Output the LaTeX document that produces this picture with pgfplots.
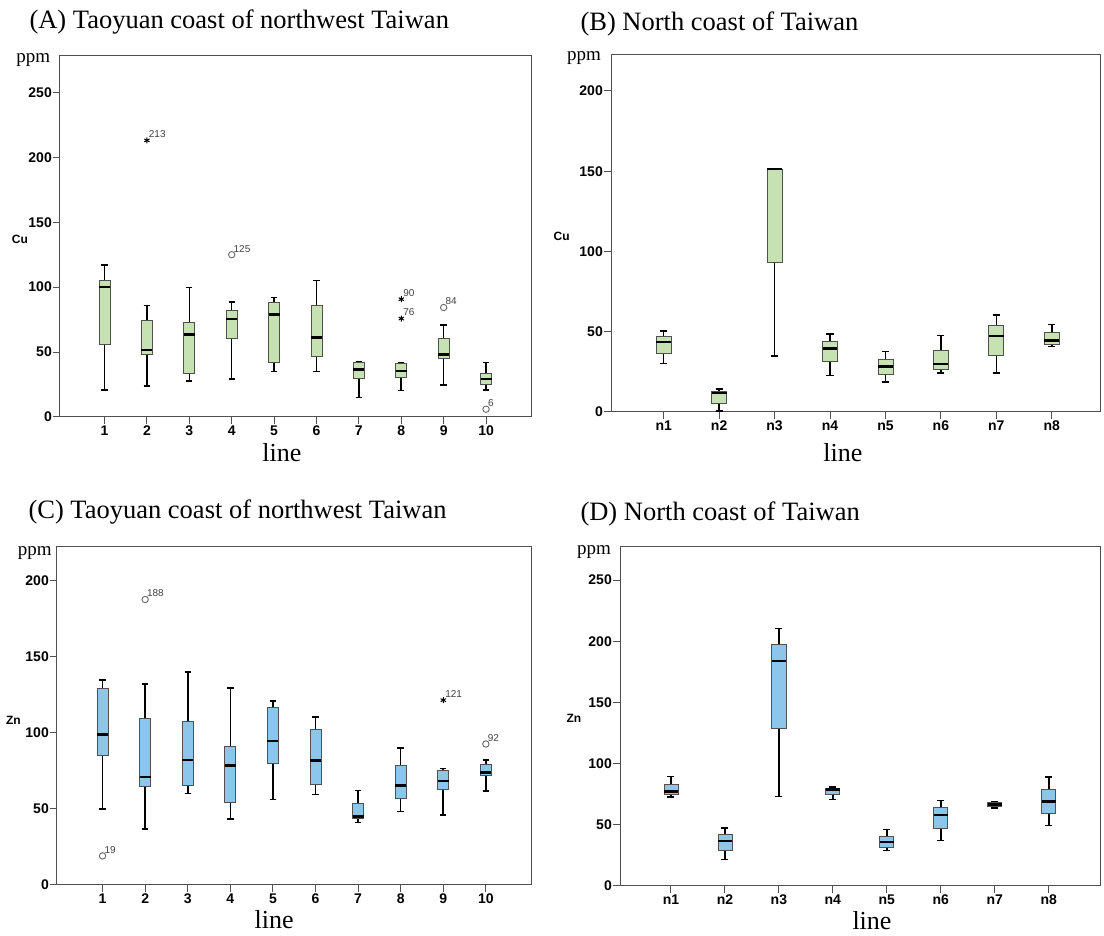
\documentclass[border=0pt]{standalone}
\usepackage{fontspec}
\setmainfont{Liberation Serif}
\newfontfamily\sansf{Liberation Sans}
\usepackage{pgfplots}
\pgfplotsset{compat=1.18}
\usepgfplotslibrary{statistics}

\definecolor{cugreen}{RGB}{198,226,178}
\definecolor{znblue}{RGB}{140,198,234}
\definecolor{frame}{RGB}{80,80,80}

\def\boxcol{cugreen}
% one prepared box: position, lower whisker, Q1, median, Q3, upper whisker
\newcommand\bx[6]{\addplot[fill=\boxcol, draw=frame,
  boxplot prepared={draw position=#1, lower whisker=#2, lower quartile=#3,
  median=#4, upper quartile=#5, upper whisker=#6}] coordinates {};}

\pgfplotsset{
  panel/.style={
    scale only axis, anchor=south west,
    axis line style={frame, line width=1pt},
    tick style={frame, line width=1pt},
    tick align=outside, major tick length=7pt,
    xtick pos=bottom, ytick pos=left,
    ymin=0,
    /pgf/number format/assume math mode=true,
    ticklabel style={font=\fontsize{14}{16}\selectfont\sansf\bfseries},
    yticklabel style={inner sep=1pt},
    xticklabel style={inner sep=2pt},
    boxplot/draw direction=y,
    boxplot/box extend=0.26,
    boxplot/whisker extend=0.15,
    boxplot/every box/.style={draw=frame, line width=0.8pt},
    boxplot/every whisker/.style={black, line width=1.6pt},
    boxplot/every median/.style={black, line width=2.6pt},
    clip=false,
  },
  circ/.style={only marks, mark=o, mark size=3.2pt, draw=black!60,
    mark options={line width=0.9pt},
    nodes near coords, point meta=explicit symbolic,
    every node near coord/.append style={anchor=south west, inner sep=0.5pt,
      xshift=1pt, yshift=1.5pt, font=\fontsize{10}{11}\selectfont\sansf, text=black!75}},
  star/.style={circ, mark=asterisk, mark size=3pt, draw=black,
    mark options={line width=1pt}},
}

\newcommand\ylab[3]{\node[font=\fontsize{12}{13}\selectfont\sansf\bfseries] at (axis description cs:#1,#2) {#3};}
\newcommand\ppm[2]{\node[font=\fontsize{19}{20}\selectfont] at (axis description cs:#1,#2) {ppm};}
\newcommand\xlab[2]{\node[anchor=base, font=\fontsize{26}{28}\selectfont] at (axis description cs:#1,#2) {line};}

\begin{document}
\begin{tikzpicture}
\useasboundingbox (0,0) rectangle (1104pt,936pt);

\node[anchor=base west, font=\fontsize{26.5}{30}\selectfont] at (26pt,907pt) {(A) Taoyuan coast of northwest Taiwan};
\node[anchor=base west, font=\fontsize{26.5}{30}\selectfont] at (577pt,905pt) {(B) North coast of Taiwan};
\node[anchor=base west, font=\fontsize{26.5}{30}\selectfont] at (25pt,417pt) {(C) Taoyuan coast of northwest Taiwan};
\node[anchor=base west, font=\fontsize{26.5}{30}\selectfont] at (577pt,415pt) {(D) North coast of Taiwan};

% (A) Cu, Taoyuan
\def\boxcol{cugreen}
\begin{axis}[panel, at={(60pt,519pt)}, width=471pt, height=361pt,
  xmin=-0.05, xmax=11.06, ymax=278,
  xtick={1,...,10}, ytick={0,50,...,250}]
\bx{1}{21}{56}{100}{105}{117}
\bx{2}{24}{48}{51.6}{74}{86}
\bx{3}{27.5}{33.7}{63.5}{73}{99.7}
\bx{4}{29.3}{60.4}{75.5}{82}{88.6}
\bx{5}{35}{42.4}{79}{88}{92}
\bx{6}{35}{47}{61}{86}{105}
\bx{7}{15}{29.8}{36.8}{42}{42.4}
\bx{8}{20.3}{30.6}{35.5}{41.6}{42}
\bx{9}{24.7}{45.2}{48.3}{60.6}{71}
\bx{10}{20.8}{25.2}{29.3}{33.7}{42}
\addplot[circ] coordinates {(4,125) [125] (9,84.3) [84] (10,6) [6]};
\addplot[star] coordinates {(2,213) [213] (8,90.7) [90] (8,75.8) [76]};
\ylab{-0.085}{0.493}{Cu}
\ppm{-0.057}{0.989}
\xlab{0.471}{-0.122}
\end{axis}

% (B) Cu, north coast
\begin{axis}[panel, at={(611pt,524pt)}, width=489pt, height=357pt,
  xmin=0.05, xmax=8.87, ymax=222.4,
  xtick={1,...,8}, xticklabels={n1,n2,n3,n4,n5,n6,n7,n8}, ytick={0,50,...,200},
  boxplot/box extend=0.27, boxplot/whisker extend=0.13]
\bx{1}{30.1}{36.7}{43.6}{47.1}{50.6}
\bx{2}{0.5}{5.6}{11.8}{12.8}{14.5}
\bx{3}{35}{93.2}{151.4}{151.4}{151.4}
\bx{4}{22.8}{31.3}{39.4}{43.8}{48.4}
\bx{5}{18.7}{23.4}{28.4}{33}{37.6}
\bx{6}{24.3}{26.8}{29.9}{38.6}{47.7}
\bx{7}{24.3}{35.5}{47.3}{53.8}{60.6}
\bx{8}{40.7}{42.4}{44.4}{49.6}{54.6}
\ylab{-0.101}{0.491}{Cu}
\ppm{-0.055}{0.992}
\xlab{0.474}{-0.138}
\end{axis}

% (C) Zn, Taoyuan
\def\boxcol{znblue}
\begin{axis}[panel, at={(57pt,51pt)}, width=474pt, height=338pt,
  xmin=-0.07, xmax=11.06, ymax=222,
  xtick={1,...,10}, ytick={0,50,...,200}]
\bx{1}{50}{85.2}{98.7}{128.8}{134.5}
\bx{2}{36.8}{64.7}{70.8}{109.6}{132}
\bx{3}{60}{65.3}{82}{107.5}{140}
\bx{4}{43.3}{54.2}{78.4}{91.3}{129.5}
\bx{5}{56.2}{79.7}{94.6}{116.8}{121}
\bx{6}{59.4}{66.2}{81.7}{102.4}{110.3}
\bx{7}{41.1}{44}{45}{53.8}{62}
\bx{8}{48.3}{56.6}{65.3}{78.7}{90}
\bx{9}{45.9}{62.7}{68.4}{75.1}{76.5}
\bx{10}{61.8}{71.7}{73.8}{79.5}{82}
\addplot[circ] coordinates {(1,19.1) [19] (2,187.5) [188] (10,92.6) [92]};
\addplot[star] coordinates {(9,121.4) [121]};
\ylab{-0.092}{0.488}{Zn}
\ppm{-0.047}{0.982}
\xlab{0.458}{-0.130}
\end{axis}

% (D) Zn, north coast
\begin{axis}[panel, at={(620pt,50pt)}, width=480pt, height=339pt,
  xmin=0.056, xmax=8.95, ymax=277,
  xtick={1,...,8}, xticklabels={n1,n2,n3,n4,n5,n6,n7,n8}, ytick={0,50,...,250},
  boxplot/box extend=0.26, boxplot/whisker extend=0.13]
\bx{1}{72.9}{74.8}{77.3}{83.3}{89.5}
\bx{2}{21.7}{29}{36.7}{42.1}{47.3}
\bx{3}{73.2}{128.5}{183.8}{197.2}{210.5}
\bx{4}{70.7}{74.8}{78.9}{80}{80.8}
\bx{5}{29}{31.7}{35.8}{40.7}{46.2}
\bx{6}{37.2}{47.3}{57.9}{63.9}{69.9}
\bx{7}{63.6}{65.3}{66.6}{68}{68.5}
\bx{8}{49.5}{59}{68.8}{78.9}{89.3}
\ylab{-0.096}{0.493}{Zn}
\ppm{-0.054}{0.985}
\xlab{0.525}{-0.127}
\end{axis}
\end{tikzpicture}
\end{document}
